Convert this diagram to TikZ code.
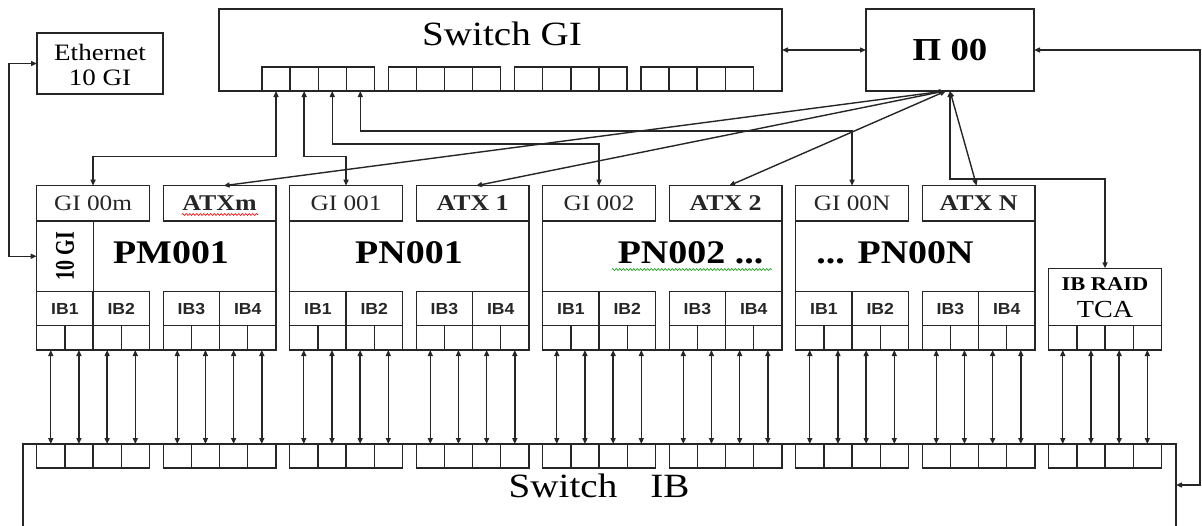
\documentclass[tikz,border=0pt]{standalone}
\usepackage{fontspec}
\usepackage{graphicx}
\setmainfont{Liberation Serif}
\newfontfamily\wserif[FakeStretch=1.15]{Liberation Serif}
\newfontfamily\wsans[FakeStretch=1.1]{Liberation Sans}
\newcommand\myfs[1]{\fontsize{#1}{#1}\selectfont}
\usetikzlibrary{arrows.meta,decorations.pathmorphing}
\begin{document}
\begin{tikzpicture}[x=1pt,y=-1pt,line width=1.4pt,color=black!85,
  >={Triangle[length=6pt,width=5pt]},
  box/.style={draw, inner sep=0pt, outer sep=0pt, anchor=north west},
  port/.style={box, minimum width=28.15pt, minimum height=24pt},
  lnk/.style={<->},
  txt/.style={anchor=base, text=black, inner sep=0pt},
  squig/.style={line width=0.6pt, decorate, decoration={snake, amplitude=1pt, segment length=3.5pt}}
]
\useasboundingbox (0,0) rectangle (1202,525);

% Switch GI
\node[box, minimum width=563pt, minimum height=82pt] (swgi) at (219,9) {};
\node[txt, font=\wserif\myfs{34}] (swgit) at (502,45) {Switch GI};
\foreach \g in {0,...,3}{
  \foreach \j in {0,...,3}{
    \pgfmathtruncatemacro\n{4*\g+\j}
    \node[port, minimum width=28.1pt] (gp\n) at ({262+126.3*\g+28.1*\j},67) {};
  }
}

% P 00
\node[box, minimum width=168pt, minimum height=82pt] (p00) at (866,9) {};
\node[txt, font=\wserif\bfseries\myfs{32}] (p00t) at (950,60) {П 00};

% Ethernet 10 GI
\node[box, minimum width=126pt, minimum height=61pt] (eth) at (37,33) {};
\node[txt, font=\wserif\myfs{23.5}] (etht1) at (100,60) {Ethernet};
\node[txt, font=\wserif\myfs{23.5}] (etht2) at (100,85) {10 GI};

% compute nodes
\foreach \k/\gname/\aname/\pname/\tx in {0/GI 00m/ATXm/PM001/171, 1/GI 001/ATX 1/PN001/409, 2/GI 002/ATX 2/{PN002 ...}/690.5, 3/GI 00N/ATX N/{... PN00N}/895}{
  \pgfmathsetmacro\xo{36.7+253*\k}
  \draw (\xo,221) -- (\xo,350) -- (\xo+239.3,350) -- (\xo+239.3,221);
  \node[box, minimum width=112.7pt, minimum height=35.3pt, font=\wserif\myfs{22}] (gi\k) at (\xo,185.7) {\gname};
  \node[box, minimum width=112.8pt, minimum height=35.3pt, font=\wserif\bfseries\myfs{22.5}] (atx\k) at (\xo+126.5,185.7) {\aname};
  \node[txt, font=\wserif\bfseries\myfs{33}] (pt\k) at (\tx,263.3) {\pname};
  \foreach \m in {0,1,2,3}{
    \pgfmathtruncatemacro\ib{4*\k+\m}
    \pgfmathtruncatemacro\lab{\m+1}
    \pgfmathsetmacro\ibx{\xo + 126.5*int(\m/2) + 56.35*mod(\m,2)}
    \node[box, minimum width=56.35pt, minimum height=34.2pt, font=\wsans\bfseries\myfs{16}] (ib\ib) at (\ibx,291.5) {IB\lab};
  }
}

% 10 GI sub box of PM001
\node[box, minimum width=56.6pt, minimum height=70.5pt] (tengi) at (36.7,221) {};
\node[rotate=90, text=black, inner sep=0pt, font=\bfseries\myfs{20}] (tengit) at (tengi.center) {\scalebox{1}[1.35]{10 GI}};

% spell-check squiggles
\draw[squig, red] (181.7,214.5) -- (258,214.5);
\draw[squig, green!60!black] (611.7,269.5) -- (771.7,269.5);

% IB RAID TCA
\node[box, minimum width=112.7pt, minimum height=81.7pt] (tca) at (1048.7,268.3) {};
\node[txt, font=\wserif\bfseries\myfs{19.5}] (tcat1) at (1105,290.7) {IB RAID};
\node[txt, font=\wserif\myfs{24.5}] (tcat2) at (1105,317.7) {TCA};

% Switch IB (open at the bottom of the picture)
\begin{scope}
  \clip (0,0) rectangle (1202,525);
  \node[box, minimum width=1153pt, minimum height=140pt] (swib) at (23,444) {};
\end{scope}
\node[anchor=base west, text=black, inner sep=0pt, font=\wserif\myfs{34}] (swibt) at (508,497) {Switch\hspace{33pt}IB};

% ports and IB links
\foreach \n in {0,...,35}{
  \pgfmathsetmacro\px{36.7+126.5*int(\n/4)+28.175*mod(\n,4)}
  \node[port, minimum height=24.3pt] (np\n) at (\px,325.7) {};
  \node[port] (sp\n) at (\px,444) {};
  \draw[lnk] (np\n.south) -- (sp\n.north);
}

% Switch GI ports to GI boxes
\draw[lnk] (gp0.south) -- ++(0,65.5) -| (gi0.north);
\draw[lnk] (gp1.south) -- ++(0,65.5) -| (gi1.north);
\draw[lnk] (gp2.south) -- ++(0,53) -| (gi2.north);
\draw[lnk] (gp3.south) -- ++(0,40) -| (gi3.north);

% Switch GI <-> P 00
\draw[lnk] (swgi.east) -- (p00.west);

% P 00 to ATX boxes and TCA
\draw[lnk] ([xshift=-5pt]p00.south) -- ([xshift=4pt]atx0.north);
\draw[lnk] ([xshift=-5pt]p00.south) -- ([xshift=3.5pt]atx1.north);
\draw[lnk] ([xshift=-4pt]p00.south) -- ([xshift=3.5pt]atx2.north);
\draw[lnk] (p00.south) -- ([xshift=-2pt]atx3.north);
\draw[lnk] (p00.south) -- ++(0,88) -| (tca.north);

% Ethernet <-> 10 GI
\coordinate (lc) at (9,256.25);
\draw[lnk] (eth.west) -| (lc) -- (tengi.west);

% P 00 <-> Switch IB
\coordinate (rc) at (1200,485);
\draw[lnk] (p00.east) -| (rc) -- (rc -| swib.east);
\end{tikzpicture}
\end{document}
